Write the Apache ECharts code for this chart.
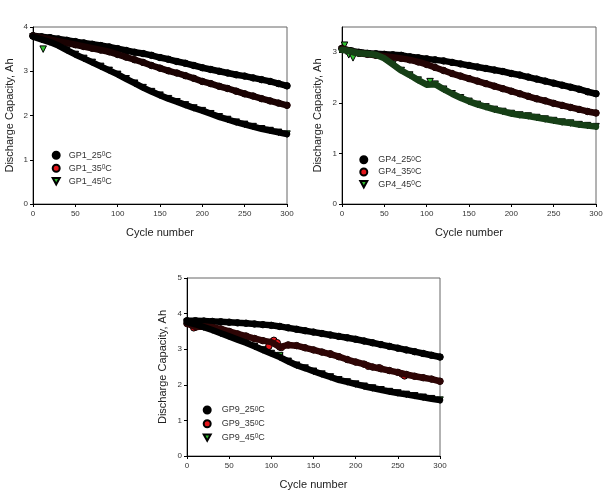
<!DOCTYPE html>
<html>
<head>
<meta charset="utf-8">
<script src="https://cdn.jsdelivr.net/npm/echarts@6/dist/echarts.min.js"></script>
<style>
html,body{margin:0;padding:0;background:#fff;}
#c{width:610px;height:491px;}
</style>
</head>
<body>
<div id="c"></div>
<script>
// ---- data ----
const cycles = [0,10,20,30,40,50,60,70,80,90,100,110,120,130,140,150,160,170,180,190,200,210,220,230,240,250,260,270,280,290,300];
const xTicks = [0,50,100,150,200,250,300];

const gp1_25 = [3.80,3.78,3.76,3.73,3.70,3.67,3.64,3.61,3.58,3.55,3.51,3.47,3.43,3.40,3.36,3.31,3.27,3.22,3.18,3.13,3.08,3.04,3.00,2.96,2.92,2.89,2.85,2.81,2.77,2.72,2.67];
const gp1_35 = [3.80,3.76,3.72,3.68,3.64,3.60,3.56,3.52,3.48,3.44,3.38,3.32,3.26,3.20,3.13,3.07,3.01,2.96,2.90,2.84,2.77,2.72,2.66,2.61,2.55,2.49,2.44,2.38,2.33,2.28,2.23];
const gp1_45 = [3.78,3.72,3.66,3.58,3.48,3.38,3.29,3.20,3.11,3.02,2.93,2.83,2.73,2.63,2.54,2.46,2.38,2.31,2.24,2.17,2.11,2.04,1.97,1.91,1.85,1.80,1.75,1.70,1.66,1.62,1.58];
const gp1_45_extra = [[12,3.50]];
const gp1_yTicks = [0,1,2,3,4];

const gp4_25 = [3.07,3.03,3.00,2.98,2.97,2.96,2.95,2.94,2.91,2.89,2.87,2.85,2.83,2.80,2.77,2.74,2.71,2.68,2.65,2.62,2.58,2.55,2.51,2.47,2.43,2.39,2.35,2.31,2.27,2.22,2.18];
const gp4_35 = [3.08,3.02,2.98,2.96,2.94,2.92,2.90,2.88,2.85,2.81,2.76,2.70,2.64,2.58,2.53,2.48,2.43,2.38,2.33,2.28,2.23,2.18,2.13,2.08,2.04,1.99,1.95,1.91,1.87,1.83,1.80];
const gp4_45 = [3.05,3.02,2.98,2.97,2.95,2.88,2.76,2.64,2.55,2.45,2.36,2.37,2.27,2.18,2.10,2.03,1.97,1.92,1.87,1.83,1.79,1.76,1.74,1.71,1.68,1.65,1.62,1.60,1.57,1.55,1.53];
const gp4_45_extra = [[3,3.14],[5,3.02],[8,2.95],[13,2.89],[22,2.98],[55,2.82],[104,2.42]];
const gp4_yTicks = [0,1,2,3];

const gp9_25 = [3.80,3.80,3.79,3.78,3.77,3.76,3.74,3.73,3.71,3.69,3.67,3.64,3.60,3.56,3.52,3.48,3.44,3.40,3.36,3.32,3.28,3.23,3.18,3.13,3.08,3.03,2.98,2.93,2.88,2.83,2.78];
const gp9_35 = [3.72,3.62,3.64,3.62,3.57,3.50,3.43,3.37,3.30,3.24,3.20,3.06,3.12,3.10,3.04,2.98,2.92,2.86,2.79,2.71,2.64,2.58,2.50,2.45,2.40,2.35,2.29,2.24,2.20,2.16,2.10];
const gp9_35_extra = [[8,3.60],[97,3.08],[103,3.25],[107,3.18],[112,3.05],[170,2.87],[215,2.52],[228,2.48],[255,2.30],[258,2.25]];
const gp9_45 = [3.76,3.70,3.62,3.54,3.45,3.36,3.27,3.18,3.08,2.98,2.88,2.78,2.66,2.55,2.47,2.38,2.30,2.22,2.14,2.08,2.02,1.96,1.91,1.86,1.81,1.77,1.73,1.69,1.65,1.61,1.57];
const gp9_45_extra = [[67,3.22],[110,2.82]];
const gp9_yTicks = [0,1,2,3,4,5];

const names = [
  ['GP1_25','GP1_35','GP1_45'],
  ['GP4_25','GP4_35','GP4_45'],
  ['GP9_25','GP9_35','GP9_45']
];

// ---- styling / layout ----
const FONT = 'Liberation Sans, Arial, sans-serif';
const TRI = 'path://M0,0L10,0L5,9Z';
const grids = [
  {left:33, top:27, width:254, height:177},
  {left:342, top:27, width:254, height:177},
  {left:187, top:278, width:253, height:178}
];
const yMax = [4, 3.5, 5];
const yTicksAll = [gp1_yTicks, gp4_yTicks, gp9_yTicks];
const yNameGap = [17.5, 18.5, 18.5];
const xNameGap = [23.5, 23.5, 23];
const legendPos = [
  {left:51.7, top:150.7, itemGap:4, pad:4},
  {left:359.3, top:155.3, itemGap:3.2, pad:6},
  {left:202.7, top:405.5, itemGap:4.8, pad:6}
];
const seriesSpec = [
  [{v:gp1_25, fill:'#000', band:'#000', line:'#000', sym:'circle', extra:[]},
   {v:gp1_35, fill:'#e3161b', band:'#5a0808', line:'#1a0202', sym:'circle', extra:[]},
   {v:gp1_45, fill:'#2fbf2f', band:'#050505', line:'#000', sym:TRI, extra:gp1_45_extra}],
  [{v:gp4_25, fill:'#000', band:'#000', line:'#000', sym:'circle', extra:[]},
   {v:gp4_35, fill:'#e3161b', band:'#7a0c0c', line:'#240404', sym:'circle', extra:[]},
   {v:gp4_45, fill:'#2fbf2f', band:'#2fa02f', line:'#163f16', sym:TRI, extra:gp4_45_extra}],
  [{v:gp9_25, fill:'#000', band:'#000', line:'#000', sym:'circle', extra:[]},
   {v:gp9_35, fill:'#e3161b', band:'#8a1010', line:'#2e0505', sym:'circle', extra:gp9_35_extra},
   {v:gp9_45, fill:'#2fbf2f', band:'#050505', line:'#000', sym:TRI, extra:gp9_45_extra}]
];

const option = {
  animation:false,
  backgroundColor:'#fff',
  textStyle:{fontFamily:FONT},
  grid: grids.map(g => Object.assign({show:true, borderColor:'#666', borderWidth:1, backgroundColor:'transparent', containLabel:false}, g)),
  xAxis: grids.map((g,i) => ({
    gridIndex:i, type:'value', min:0, max:300, interval:50,
    name:'Cycle number', nameLocation:'middle', nameGap:xNameGap[i],
    nameTextStyle:{fontSize:11, color:'#222', fontFamily:FONT},
    axisLine:{show:true, lineStyle:{color:'#000', width:1}},
    axisTick:{show:true, length:3, inside:false, lineStyle:{color:'#000'}},
    axisLabel:{fontSize:8, color:'#333', margin:6, fontFamily:FONT},
    splitLine:{show:false}
  })),
  yAxis: grids.map((g,i) => ({
    gridIndex:i, type:'value', min:0, max:yMax[i],
    axisTick:{show:true, length:3, lineStyle:{color:'#000'}, customValues:yTicksAll[i]},
    axisLabel:{fontSize:8, color:'#333', margin:5, fontFamily:FONT, customValues:yTicksAll[i]},
    name:'Discharge Capacity, Ah', nameLocation:'middle', nameGap:yNameGap[i],
    nameTextStyle:{fontSize:11, color:'#222', fontFamily:FONT},
    axisLine:{show:true, lineStyle:{color:'#000', width:1}},
    splitLine:{show:false}
  })),
  legend: names.map((ns,i) => ({
    orient:'vertical', left:legendPos[i].left, top:legendPos[i].top, padding:0,
    itemGap:legendPos[i].itemGap, itemWidth:7, itemHeight:7,
    data: ns.map((n,k) => ({name:n, icon: seriesSpec[i][k].sym})),
    selectedMode:false,
    formatter: n => n + '{s|0}C',
    textStyle:{fontSize:9, color:'#333', fontFamily:FONT, padding:[0,0,0,legendPos[i].pad],
      rich:{s:{fontSize:6.5, color:'#333', verticalAlign:'top', fontFamily:FONT}}}
  })),
  series: []
};

seriesSpec.forEach((grp,i) => {
  grp.forEach((sp,k) => {
    const pts = cycles.map((c,j) => [c, sp.v[j]]);
    option.series.push({
      type:'line', name:names[i][k]+'_band', xAxisIndex:i, yAxisIndex:i,
      data:pts, showSymbol:false, symbol:'none', clip:false, silent:true,
      lineStyle:{color:sp.line, width:6.5, cap:'round', join:'round'}
    });
    const last = pts.length-1;
    const sc = pts.map((p,j) => ({value:p, itemStyle:{color: j===last ? sp.fill : sp.band}}));
    sp.extra.forEach(p => sc.push({value:p, itemStyle:{color:sp.fill}}));
    const endItem = sc.splice(last,1)[0];
    sc.push(endItem);
    option.series.push({
      type:'scatter', name:names[i][k], xAxisIndex:i, yAxisIndex:i,
      symbol:sp.sym, symbolSize:6.5, clip:false,
      itemStyle:{color:sp.fill, borderColor:'#000', borderWidth:1, opacity:1},
      data:sc
    });
  });
});

const chart = echarts.init(document.getElementById('c'), null, {renderer:'canvas'});
chart.setOption(option);
</script>
</body>
</html>
